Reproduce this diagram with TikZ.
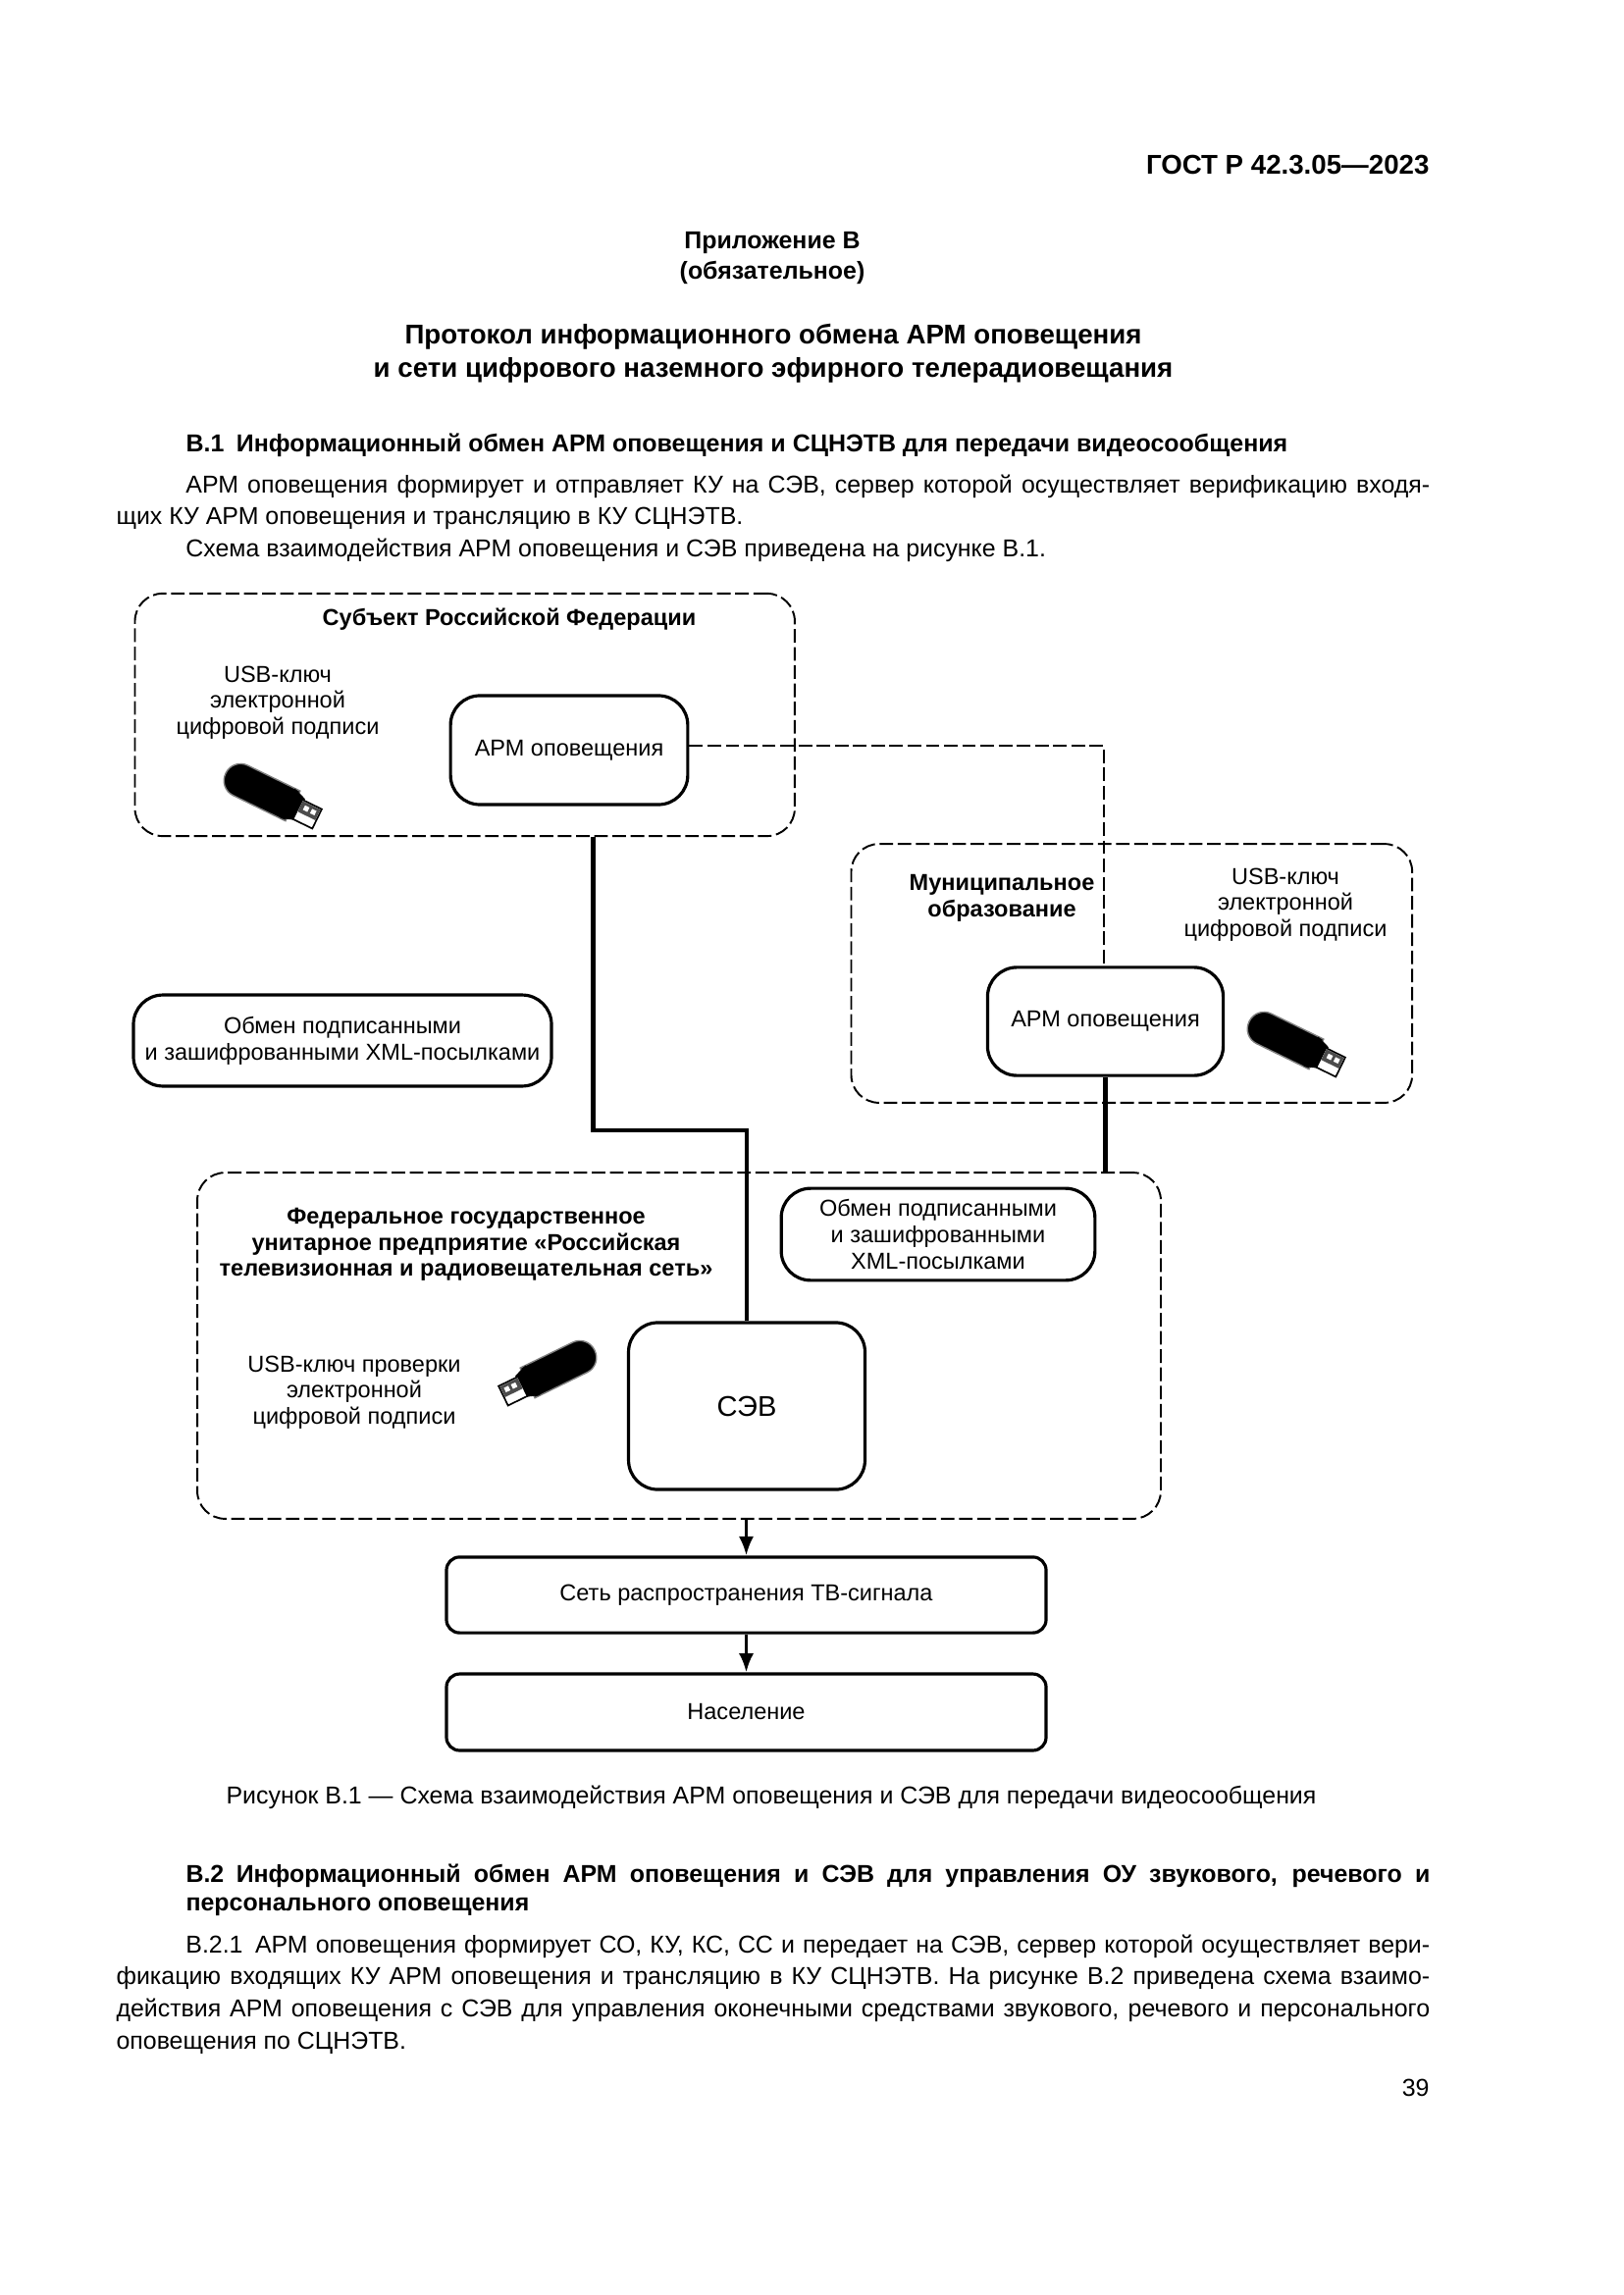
\documentclass[tikz,border=0pt]{standalone}
\usepackage{fontspec}
\setmainfont{Liberation Sans}
\usetikzlibrary{arrows.meta, positioning}

\tikzset{
  usbkey/.pic={
    \filldraw[fill=black, draw=gray, line width=0.5pt] (26,-17) [rounded corners=6pt] -- (-50,-17) -- (-50,17) [sharp corners] -- (26,17) -- cycle;
    \fill[black] (20,-17) -- (34,-12) -- (34,12) -- (20,17) -- cycle;
    \filldraw[fill=white, draw=black, line width=0.6pt] (32,-10) -- (54,-10) -- (54,12) -- (32,12) -- cycle;
    \fill[black!70] (33,-9) rectangle (53,3);
    \fill[white] (37,-6) rectangle (42,-1);
    \fill[white] (45,-6) rectangle (50,-1);
  }
}

\begin{document}
\begin{tikzpicture}[
  x=0.127mm, y=-0.127mm,
  txt/.style={inner sep=0pt, align=center, font=\fontsize{8.5}{9.65}\selectfont},
  hdr/.style={txt, font=\fontsize{8.5}{9.65}\selectfont\bfseries},
  regionbox/.style={draw, dash pattern=on 5pt off 1.7pt, line width=0.7pt, rounded corners=0.36cm, inner sep=0pt},
  armbox/.style={draw, line width=1.15pt, rounded corners=0.38cm, inner sep=0pt, align=center, font=\fontsize{8.5}{9.65}\selectfont},
  wide/.style={armbox, rounded corners=0.17cm, minimum width=7.76cm},
  page/.style={inner sep=0pt, font=\fontsize{9}{11.85}\selectfont},
  para/.style={page, anchor=north west, text width=17cm, align=justify},
  conn/.style={line width=1.5pt},
  dashconn/.style={line width=0.55pt, dash pattern=on 5pt off 1.7pt},
  arr/.style={-{Latex[length=7pt,width=5.5pt]}, line width=1.15pt}
]
\useasboundingbox (0,0) rectangle (1654,2339);

% page text
\node[page, anchor=east, font=\fontsize{10}{13}\selectfont\bfseries] (gost) at (1457,168) {ГОСТ Р 42.3.05—2023};
\node[page, align=center, font=\fontsize{9}{11.2}\selectfont\bfseries] (annex) at (787,263.5) {Приложение В\\(обязательное)};
\node[page, align=center, font=\fontsize{10}{12.2}\selectfont\bfseries] (title) at (788,360) {Протокол информационного обмена АРМ оповещения\\и сети цифрового наземного эфирного телерадиовещания};
\node[page, anchor=west, font=\fontsize{9.02}{11.85}\selectfont\bfseries] (headA) at (189,454) {В.1\hspace{0.5em}Информационный обмен АРМ оповещения и СЦНЭТВ для передачи видеосообщения};
\node[para] (textA) at (118,483) {\hspace*{0.9cm}АРМ оповещения формирует и отправляет КУ на СЭВ, сервер которой осуществляет верификацию входя-\linebreak щих КУ АРМ оповещения и трансляцию в КУ СЦНЭТВ.\\\hspace*{0.9cm}Схема взаимодействия АРМ оповещения и СЭВ приведена на рисунке В.1.};

% regions
\node[regionbox, minimum width=8.54cm, minimum height=3.14cm] (subject) at (473.7,728.5) {};
\node[regionbox, minimum width=7.26cm, minimum height=3.35cm] (city) at (1153.3,992) {};
\node[regionbox, minimum width=12.47cm, minimum height=4.48cm] (rtrs) at (692,1371.5) {};

% boxes
\node[armbox, minimum width=3.07cm, minimum height=1.41cm] (armA) at (580,764.5) {АРМ оповещения};
\node[armbox, minimum width=3.05cm, minimum height=1.40cm] (armB) at (1126.5,1041) {АРМ оповещения};
\node[armbox, minimum width=3.06cm, minimum height=2.16cm, font=\fontsize{10.5}{13}\selectfont] (sev) at (761,1433) {СЭВ};
\node[armbox, minimum width=5.41cm, minimum height=1.18cm] (xmlA) at (349,1060.5) {Обмен подписанными\\и зашифрованными XML-посылками};
\node[armbox, minimum width=4.06cm, minimum height=1.19cm] (xmlB) at (956,1258) {Обмен подписанными\\и зашифрованными\\XML-посылками};
\node[wide, minimum height=0.98cm] (net) at (760.5,1625.5) {Сеть распространения ТВ-сигнала};
\node[wide, minimum height=0.99cm] (people) at (760.5,1745) {Население};

% labels
\node[hdr] (subjectname) at (519,631) {Субъект Российской Федерации};
\node[txt] (usbA) at (283,716) {USB-ключ\\электронной\\цифровой подписи};
\node[hdr] (cityname) at (1021,915.5) {Муниципальное\\образование};
\node[txt] (usbB) at (1310,922) {USB-ключ\\электронной\\цифровой подписи};
\node[hdr] (rtrsname) at (475,1268.5) {Федеральное государственное\\унитарное предприятие «Российская\\телевизионная и радиовещательная сеть»};
\node[txt] (usbC) at (361,1419) {USB-ключ проверки\\электронной\\цифровой подписи};

% keys
\pic[rotate=-26] at (275,810) {usbkey};
\pic[rotate=-26] at (1318,1063) {usbkey};
\pic[xscale=-1, rotate=-26] at (561,1398) {usbkey};

% connectors
\coordinate (bendA) at (604.5,1152);
\coordinate (bendB) at (1125,760);
\draw[conn] (subject.south -| bendA) -- (bendA) -| (sev.north);
\draw[conn] (armB.south) -- (armB.south |- rtrs.north);
\draw[dashconn] (armA.east |- bendB) -- (bendB) -- (armB.north -| bendB);
\draw[arr] (rtrs.south -| net.north) -- (net.north);
\draw[arr] (net) -- (people);

% caption and the rest of the page
\node[page, anchor=west] (caption) at (230,1832) {Рисунок В.1 — Схема взаимодействия АРМ оповещения и СЭВ для передачи видеосообщения};
\node[para, text width=16.1cm, font=\fontsize{9}{10.8}\selectfont\bfseries] (headB) at (189,1899) {В.2\hspace{0.5em}Информационный обмен АРМ оповещения и СЭВ для управления ОУ звукового, речевого и\linebreak персонального оповещения};
\node[para] (textB) at (118,1971) {\hspace*{0.9cm}В.2.1\hspace{0.5em}АРМ оповещения формирует СО, КУ, КС, СС и передает на СЭВ, сервер которой осуществляет вери-\linebreak фикацию входящих КУ АРМ оповещения и трансляцию в КУ СЦНЭТВ. На рисунке В.2 приведена схема взаимо-\linebreak действия АРМ оповещения с СЭВ для управления оконечными средствами звукового, речевого и персонального\linebreak оповещения по СЦНЭТВ.};
\node[page, anchor=east] (pagenum) at (1457,2128) {39};
\end{tikzpicture}
\end{document}
